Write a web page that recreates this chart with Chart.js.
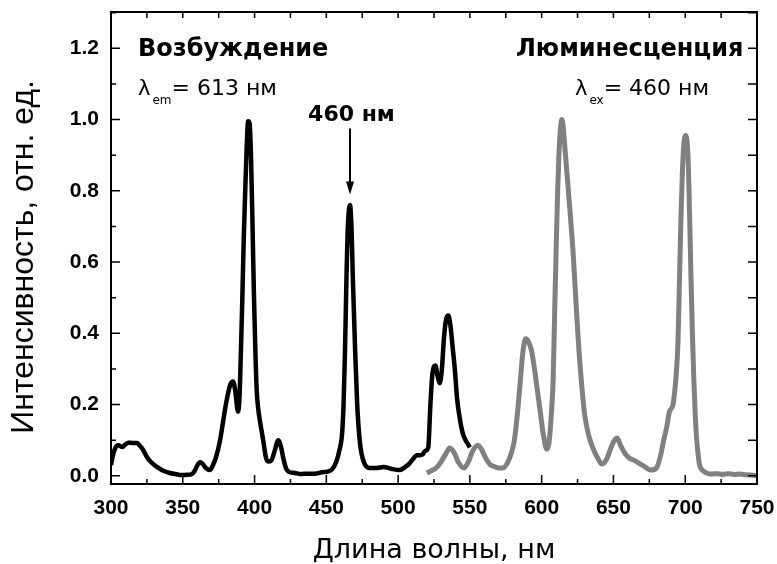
<!DOCTYPE html>
<html>
<head>
<meta charset="utf-8">
<script src="https://cdn.jsdelivr.net/npm/chart.js"></script>
<style>
html, body { margin: 0; padding: 0; background: #fff; }
</style>
</head>
<body>
<canvas id="myChart" width="777" height="564"></canvas>
<script>
// Спектр возбуждения (чёрный)
const excX = [300, 301.5, 303, 305, 308, 310, 312, 315, 318, 320, 322, 325, 328, 332, 336, 341, 345, 349, 353, 356, 358, 360, 362, 364, 366, 369, 371, 373, 376, 378, 380, 383, 385, 386.5, 388.5, 389.5, 390.5, 391.5, 392.5, 393.5, 394.5, 395.5, 396.5, 397.5, 398.5, 399.5, 400.5, 401.5, 402.5, 404, 406, 408, 410, 412, 414, 416.5, 418.5, 420, 422, 424, 428, 432, 437, 442, 447, 451, 454, 457, 459, 461, 462, 463, 464, 465, 466.5, 467.5, 468.5, 470, 471.5, 473.5, 476, 480, 485, 490, 495, 501, 505, 508, 511, 513, 515, 517, 519, 521, 522.5, 524, 526, 527.5, 529, 530.5, 532, 533.5, 535, 536.5, 538, 539.5, 541, 543, 545, 547, 548.5, 550];
const excY = [0.03, 0.06, 0.078, 0.086, 0.081, 0.088, 0.093, 0.092, 0.092, 0.085, 0.075, 0.053, 0.038, 0.025, 0.015, 0.008, 0.005, 0.002, 0.003, 0.004, 0.012, 0.028, 0.038, 0.033, 0.022, 0.016, 0.03, 0.05, 0.1, 0.15, 0.2, 0.255, 0.265, 0.24, 0.18, 0.22, 0.35, 0.5, 0.67, 0.8, 0.92, 0.995, 0.99, 0.9, 0.72, 0.52, 0.36, 0.24, 0.19, 0.148, 0.1, 0.05, 0.04, 0.045, 0.07, 0.1, 0.08, 0.05, 0.02, 0.011, 0.008, 0.005, 0.006, 0.006, 0.01, 0.012, 0.018, 0.04, 0.07, 0.12, 0.2, 0.35, 0.55, 0.7, 0.76, 0.7, 0.55, 0.36, 0.2, 0.09, 0.04, 0.022, 0.022, 0.025, 0.02, 0.016, 0.025, 0.035, 0.05, 0.058, 0.058, 0.06, 0.07, 0.08, 0.2, 0.29, 0.31, 0.28, 0.26, 0.3, 0.39, 0.44, 0.45, 0.42, 0.36, 0.3, 0.22, 0.16, 0.12, 0.1, 0.09, 0.08];

// Спектр люминесценции (серый)
const lumX = [520, 523, 527, 530, 533, 536, 539, 542, 546, 549, 552, 555.5, 558, 561, 564, 567, 570, 573, 576, 579, 581, 583, 585, 587, 589, 591, 593, 595, 597, 599, 601, 603.5, 605, 606, 607, 608, 609, 610, 611, 612, 613, 614, 615, 616, 618, 620, 622, 624, 626, 628, 630, 633, 636, 639, 642, 645, 647.5, 650, 652.5, 655, 658, 661, 664, 668, 672, 676, 680, 683, 685, 687, 689, 691.5, 693, 694, 695, 696, 697, 698, 699, 700.5, 702, 703, 704, 705, 706, 707, 708, 709, 710, 712, 715, 718, 722, 726, 730, 734, 738, 742, 746, 750];
const lumY = [0.008, 0.014, 0.024, 0.04, 0.06, 0.078, 0.065, 0.038, 0.022, 0.04, 0.07, 0.086, 0.075, 0.05, 0.032, 0.026, 0.022, 0.022, 0.035, 0.065, 0.1, 0.17, 0.26, 0.35, 0.385, 0.375, 0.35, 0.3, 0.24, 0.18, 0.12, 0.075, 0.09, 0.13, 0.19, 0.27, 0.45, 0.62, 0.78, 0.9, 0.97, 1.0, 0.98, 0.93, 0.83, 0.73, 0.62, 0.48, 0.35, 0.25, 0.17, 0.11, 0.075, 0.05, 0.033, 0.045, 0.07, 0.095, 0.106, 0.085, 0.063, 0.05, 0.044, 0.035, 0.025, 0.016, 0.022, 0.06, 0.1, 0.135, 0.18, 0.2, 0.25, 0.3, 0.38, 0.55, 0.72, 0.85, 0.93, 0.955, 0.89, 0.74, 0.56, 0.4, 0.27, 0.17, 0.1, 0.06, 0.03, 0.016, 0.008, 0.005, 0.006, 0.004, 0.006, 0.004, 0.005, 0.003, 0.002, 0.0];

const xMin = 300, xMax = 750;
const yMin = -0.023, yMax = 1.302;

const FONT = "'Liberation Sans', Arial, sans-serif";
const WIDE = "'DejaVu Sans', sans-serif";

function toPoints(xs, ys) {
    return xs.map((v, i) => ({x: v, y: ys[i]}));
}

// убрать автоматические поля, чтобы область графика стояла на месте
function noPad(s) {
    s.paddingTop = 0;
    s.paddingBottom = 0;
    s.paddingLeft = 0;
    s.paddingRight = 0;
}

// λ с нижним индексом и значением
function lambdaLabel(ctx, px, py, sub, rest) {
    ctx.font = '21px ' + WIDE;
    ctx.fillText('λ', px, py);
    let cx = px + ctx.measureText('λ').width + 2;
    ctx.font = '12px ' + WIDE;
    ctx.fillText(sub, cx, py + 9);
    cx += ctx.measureText(sub).width;
    ctx.font = '22px ' + WIDE;
    ctx.fillText(rest, cx, py);
}

// рамка, засечки внутрь и надписи
const decor = {
    id: 'decor',
    afterDatasetsDraw(chart) {
        const ctx = chart.ctx;
        const a = chart.chartArea;
        const x = chart.scales.x, y = chart.scales.y;
        ctx.save();
        ctx.strokeStyle = '#000';
        ctx.lineWidth = 2;
        ctx.strokeRect(a.left, a.top, a.right - a.left, a.bottom - a.top);

        ctx.lineWidth = 1.5;
        ctx.beginPath();
        x.ticks.forEach(t => {
            const px = x.getPixelForValue(t.value);
            const len = t.value % 50 === 0 ? 9 : 5;
            ctx.moveTo(px, a.bottom); ctx.lineTo(px, a.bottom - len);
            ctx.moveTo(px, a.top); ctx.lineTo(px, a.top + 6);
        });
        y.ticks.forEach(t => {
            const py = y.getPixelForValue(t.value);
            const len = Math.round(t.value * 10) % 2 === 0 ? 9 : 5;
            ctx.moveTo(a.left, py); ctx.lineTo(a.left + len, py);
            ctx.moveTo(a.right, py); ctx.lineTo(a.right - 9, py);
        });
        ctx.stroke();

        // надписи
        ctx.fillStyle = '#000';
        ctx.textBaseline = 'alphabetic';
        ctx.textAlign = 'left';
        ctx.font = 'bold 24px ' + WIDE;
        ctx.fillText('Возбуждение', x.getPixelForValue(318.8), y.getPixelForValue(1.178));
        ctx.textAlign = 'right';
        ctx.fillText('Люминесценция', x.getPixelForValue(740.5), y.getPixelForValue(1.178));

        ctx.textAlign = 'left';
        lambdaLabel(ctx, x.getPixelForValue(318.8), y.getPixelForValue(1.068), 'em', '= 613 нм');
        lambdaLabel(ctx, x.getPixelForValue(623.2), y.getPixelForValue(1.068), 'ex', '= 460 нм');

        ctx.font = 'bold 22px ' + WIDE;
        ctx.textAlign = 'center';
        ctx.fillText('460 нм', x.getPixelForValue(467.5), y.getPixelForValue(0.995));

        // стрелка
        const ax = x.getPixelForValue(466.5);
        const ay0 = y.getPixelForValue(0.975), ay1 = y.getPixelForValue(0.79);
        ctx.lineWidth = 2;
        ctx.beginPath();
        ctx.moveTo(ax, ay0); ctx.lineTo(ax, ay1 - 8);
        ctx.stroke();
        ctx.beginPath();
        ctx.moveTo(ax, ay1);
        ctx.lineTo(ax - 4, ay1 - 13);
        ctx.lineTo(ax + 4, ay1 - 13);
        ctx.closePath();
        ctx.fill();
        ctx.restore();
    }
};

const data = {
    datasets: [{
        label: 'Возбуждение',
        data: toPoints(excX, excY),
        borderColor: '#000000',
        borderWidth: 4.5,
        pointRadius: 0,
        cubicInterpolationMode: 'monotone'
    }, {
        label: 'Люминесценция',
        data: toPoints(lumX, lumY),
        borderColor: 'rgb(128, 128, 128)',
        borderWidth: 5,
        pointRadius: 0,
        cubicInterpolationMode: 'monotone'
    }]
};

const config = {
    type: 'line',
    data: data,
    options: {
        responsive: false,
        animation: false,
        layout: { padding: { left: 0, top: 12, right: 20, bottom: 0 } },
        plugins: { legend: { display: false }, tooltip: { enabled: false } },
        scales: {
            x: {
                type: 'linear',
                min: xMin,
                max: xMax,
                grid: { display: false, drawTicks: false },
                border: { display: false },
                ticks: {
                    stepSize: 25,
                    includeBounds: false,
                    autoSkip: false,
                    maxRotation: 0,
                    padding: 12,
                    color: '#000',
                    font: { family: FONT, size: 21, weight: 'bold' },
                    callback: v => (v % 50 === 0 ? String(v) : '')
                },
                title: {
                    display: true,
                    text: 'Длина волны, нм',
                    color: '#000',
                    font: { family: WIDE, size: 27, lineHeight: 1 },
                    padding: { top: 3, bottom: 0 }
                },
                afterFit: s => { s.height = 80; noPad(s); }
            },
            y: {
                min: yMin,
                max: yMax,
                grid: { display: false, drawTicks: false },
                border: { display: false },
                ticks: {
                    stepSize: 0.1,
                    includeBounds: false,
                    autoSkip: false,
                    padding: 12,
                    color: '#000',
                    font: { family: FONT, size: 21, weight: 'bold' },
                    callback: v => (Math.round(v * 10) % 2 === 0 ? v.toFixed(1) : '')
                },
                title: {
                    display: true,
                    text: 'Интенсивность, отн. ед.  ',
                    color: '#000',
                    font: { family: FONT, size: 32, lineHeight: 1 },
                    padding: { top: 8, bottom: 0 }
                },
                afterFit: s => { s.width = 111; noPad(s); }
            }
        }
    },
    plugins: [decor]
};

const myChart = new Chart(document.getElementById('myChart'), config);
</script>
</body>
</html>
